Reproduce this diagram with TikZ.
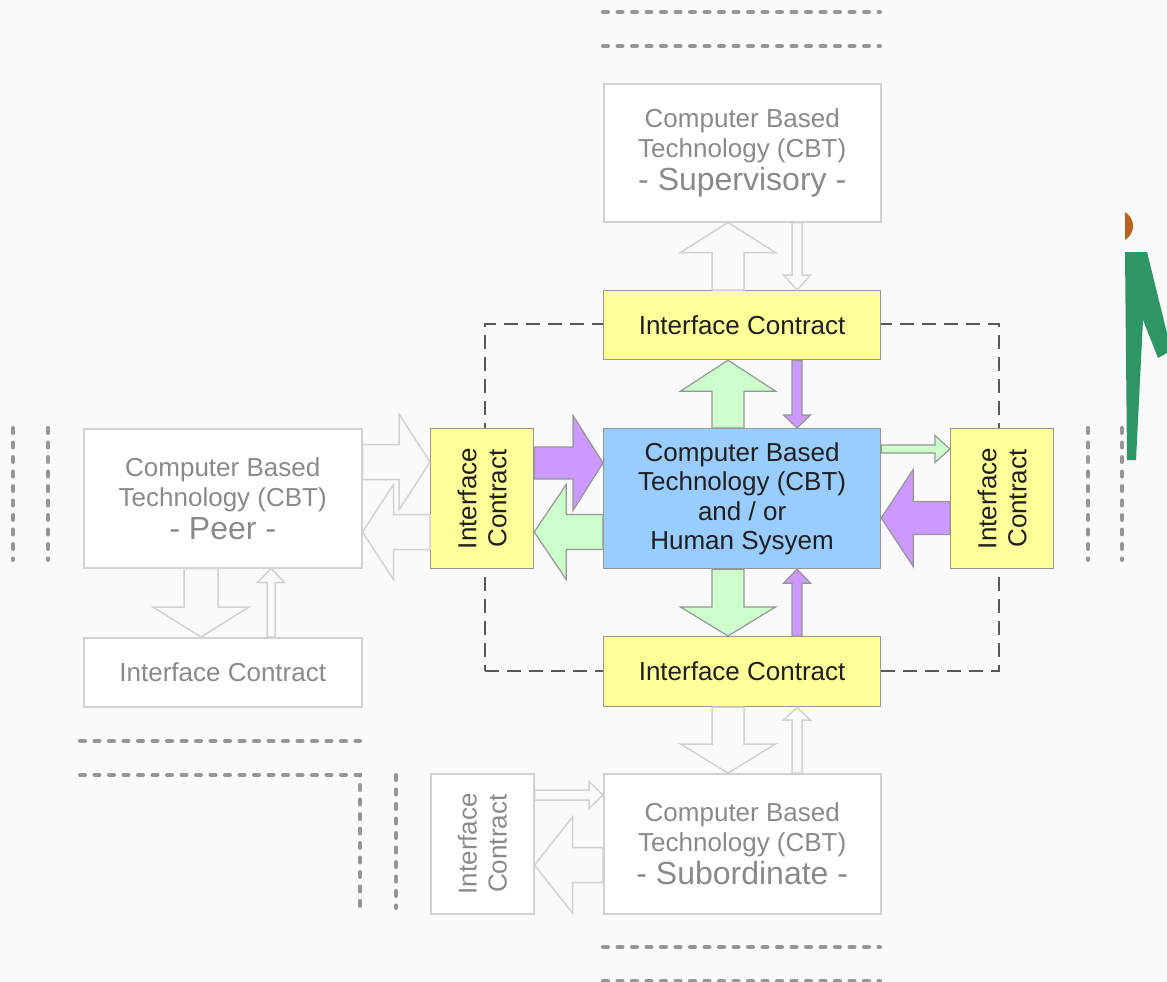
\documentclass[tikz,border=0pt]{standalone}
\usepackage{fontspec}
\setmainfont{Liberation Sans}
\usetikzlibrary{calc}

\definecolor{bg}{RGB}{250,250,250}
\definecolor{ghostline}{RGB}{210,210,210}
\definecolor{ghosttext}{RGB}{138,138,138}
\definecolor{dashgray}{RGB}{150,150,150}
\definecolor{ctyellow}{RGB}{255,255,153}
\definecolor{ctblue}{RGB}{153,204,255}
\definecolor{ctpurple}{RGB}{204,153,255}
\definecolor{ctgreen}{RGB}{204,255,204}
\definecolor{edgegray}{RGB}{150,150,150}
\definecolor{figgreen}{RGB}{46,150,100}
\definecolor{figbrown}{RGB}{185,100,30}

% Block arrow: #1 style, #2 tail point, #3 tip point,
% #4 shaft half-width, #5 head half-width, #6 head length
\newcommand\blockarrow[6]{%
  \coordinate (ba-t) at #2;
  \coordinate (ba-p) at #3;
  \coordinate (ba-h) at ($(ba-p)!#6!(ba-t)$);
  \draw[#1] ($(ba-t)!#4!90:(ba-p)$) -- ($(ba-h)!#4!-90:(ba-t)$)
    -- ($(ba-h)!#5!-90:(ba-t)$) -- (ba-p) -- ($(ba-h)!#5!90:(ba-t)$)
    -- ($(ba-h)!#4!90:(ba-t)$) -- ($(ba-t)!#4!-90:(ba-p)$) -- cycle;}

\begin{document}
\begin{tikzpicture}[x=1pt, y=-1pt,
  font=\fontsize{26}{30}\selectfont,
  ghostbox/.style={draw=ghostline, line width=1.5pt, fill=white, inner sep=0pt, anchor=north west},
  livebox/.style={draw=edgegray, line width=1.2pt, inner sep=0pt, anchor=north west},
  ghosttxt/.style={text=ghosttext, align=center},
  livetxt/.style={text=black!88, align=center},
  ghostarrow/.style={draw=ghostline, line width=1.5pt},
  purplearrow/.style={draw=edgegray, fill=ctpurple, line width=1.2pt},
  greenarrow/.style={draw=edgegray, fill=ctgreen, line width=1.2pt},
  farline/.style={draw=dashgray, line width=4pt, line cap=round, dash pattern=on 5pt off 9.5pt},
  boundarybox/.style={draw=black!65, line width=1.6pt, dash pattern=on 14pt off 8pt, inner sep=0pt, anchor=north west}]

\fill[bg] (0,0) rectangle (1167,982);
\useasboundingbox (0,0) rectangle (1167,982);

% system boundary
\node[boundarybox, minimum width=514pt, minimum height=347pt] (sys) at (484,323) {};

% far-side edges
\draw[farline] (603,12) -- (880,12);
\draw[farline] (603,46) -- (880,46);
\draw[farline] (603,947) -- (880,947);
\draw[farline] (603,981) -- (880,981);
\draw[farline] (13,428) -- (13,560);
\draw[farline] (48,428) -- (48,560);
\draw[farline] (1088,428) -- (1088,560);
\draw[farline] (1122,428) -- (1122,560);
\draw[farline] (80,741) -- (360,741);
\draw[farline] (80,775) -- (360,775) -- (360,908);
\draw[farline] (396,775) -- (396,908);

% boxes
\node[ghostbox, minimum width=277pt, minimum height=138pt] (sup) at (603,83) {};
\node[livebox, fill=ctyellow, minimum width=277pt, minimum height=69pt] (icT) at (603,290) {};
\node[livebox, fill=ctblue, minimum width=277pt, minimum height=140pt] (core) at (603,428) {};
\node[livebox, fill=ctyellow, minimum width=277pt, minimum height=70pt] (icB) at (603,636) {};
\node[ghostbox, minimum width=277pt, minimum height=140pt] (sub) at (603,773) {};
\node[livebox, fill=ctyellow, minimum width=103pt, minimum height=140pt] (icL) at (430,428) {};
\node[livebox, fill=ctyellow, minimum width=103pt, minimum height=140pt] (icR) at (950,428) {};
\node[ghostbox, minimum width=278pt, minimum height=139pt] (peer) at (83,428) {};
\node[ghostbox, minimum width=278pt, minimum height=69pt] (peerIC) at (83,637) {};
\node[ghostbox, minimum width=103pt, minimum height=140pt] (subIC) at (430,773) {};

% supervisory side
\blockarrow{ghostarrow}{(icT.north-|728,0)}{(sup.south-|728,0)}{16pt}{47.5pt}{30pt}
\blockarrow{ghostarrow}{(sup.south-|797,0)}{(icT.north-|797,0)}{5pt}{13.5pt}{15pt}
\blockarrow{greenarrow}{(core.north-|728,0)}{(icT.south-|728,0)}{16pt}{47.5pt}{31pt}
\blockarrow{purplearrow}{(icT.south-|797,0)}{(core.north-|797,0)}{5pt}{13.5pt}{13pt}

% subordinate side
\blockarrow{greenarrow}{(core.south-|728,0)}{(icB.north-|728,0)}{16pt}{47.5pt}{29pt}
\blockarrow{purplearrow}{(icB.north-|797,0)}{(core.south-|797,0)}{5pt}{13.5pt}{14pt}
\blockarrow{ghostarrow}{(icB.south-|728,0)}{(sub.north-|728,0)}{16pt}{47.5pt}{29pt}
\blockarrow{ghostarrow}{(sub.north-|797,0)}{(icB.south-|797,0)}{5pt}{13.5pt}{13pt}

% peer side
\blockarrow{purplearrow}{(icL.east|-0,463)}{(core.west|-0,463)}{16pt}{47.5pt}{30pt}
\blockarrow{greenarrow}{(core.west|-0,532)}{(icL.east|-0,532)}{17.5pt}{47.5pt}{32pt}
\blockarrow{ghostarrow}{(peer.east|-0,462)}{(icL.west|-0,462)}{17.5pt}{48pt}{31pt}
\blockarrow{ghostarrow}{(icL.west|-0,532)}{(peer.east|-0,532)}{17.5pt}{47.5pt}{31pt}
\blockarrow{ghostarrow}{(peer.south-|201,0)}{(peerIC.north-|201,0)}{17pt}{48pt}{30pt}
\blockarrow{ghostarrow}{(peerIC.north-|271,0)}{(peer.south-|271,0)}{4pt}{13.5pt}{14pt}

% right side
\blockarrow{greenarrow}{(core.east|-0,449)}{(icR.west|-0,449)}{4pt}{13.5pt}{15pt}
\blockarrow{purplearrow}{(icR.west|-0,518)}{(core.east|-0,518)}{16.5pt}{48.5pt}{32pt}

% subordinate interface
\blockarrow{ghostarrow}{(subIC.east|-0,795)}{(sub.west|-0,795)}{5pt}{13.5pt}{14pt}
\blockarrow{ghostarrow}{(sub.west|-0,865)}{(subIC.east|-0,865)}{17.5pt}{48pt}{38pt}

% labels
\node[ghosttxt] (supT) at (sup.center) {Computer Based\\Technology (CBT)\\[3pt]{\fontsize{32}{34}\selectfont - Supervisory -}};
\node[ghosttxt] (peerT) at (peer.center) {Computer Based\\Technology (CBT)\\[3pt]{\fontsize{32}{34}\selectfont - Peer -}};
\node[ghosttxt] (subT) at (sub.center) {Computer Based\\Technology (CBT)\\[3pt]{\fontsize{32}{34}\selectfont - Subordinate -}};
\node[ghosttxt] (peerICT) at (peerIC.center) {Interface Contract};
\node[ghosttxt, rotate=90] (subICT) at (subIC.center) {Interface\\Contract};
\node[livetxt, font=\fontsize{26}{29.5}\selectfont] (coreT) at (core.center) {Computer Based\\Technology (CBT)\\and / or\\Human Sysyem};
\node[livetxt] (icTT) at (icT.center) {Interface Contract};
\node[livetxt] (icBT) at (icB.center) {Interface Contract};
\node[livetxt, rotate=90] (icLT) at (icL.center) {Interface\\Contract};
\node[livetxt, rotate=90] (icRT) at (icR.center) {Interface\\Contract};

% figure at the right edge
\fill[figgreen] (1125,252) -- (1147,252) -- (1167,333) -- (1167,353) -- (1158,358)
  -- (1143,320) -- (1136,460) -- (1127,460) -- cycle;
\begin{scope}
  \clip (1125,200) rectangle (1167,250);
  \fill[figbrown] (1117,226) circle[radius=16pt];
\end{scope}
\end{tikzpicture}
\end{document}
